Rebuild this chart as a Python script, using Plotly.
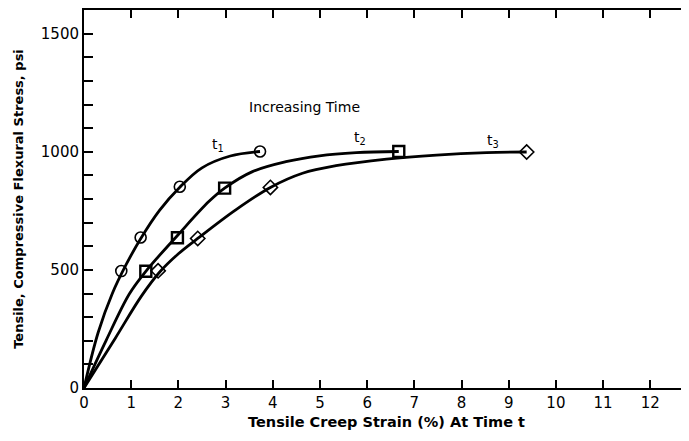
import plotly.graph_objects as go

# Marker points
t1_x = [0.79, 1.20, 2.03, 3.73]
t1_y = [495, 637, 852, 1001]
t2_x = [1.31, 1.98, 2.98, 6.67]
t2_y = [494, 636, 846, 1001]
t3_x = [1.57, 2.41, 3.95, 9.38]
t3_y = [496, 633, 849, 999]

# Points
c1_x = [0, 0.30, 0.60, 0.90, 1.20, 1.60, 2.03, 2.50, 3.10, 3.73]
c1_y = [0, 235, 400, 525, 632, 752, 850, 932, 982, 1001]
c2_x = [0, 0.47, 0.96, 1.31, 2.00, 2.65, 2.98, 3.57, 4.28, 4.99, 5.77, 6.67]
c2_y = [0, 202, 398, 494, 650, 790, 846, 916, 958, 983, 996, 1001]
c3_x = [0, 0.66, 1.22, 1.60, 2.00, 2.41, 3.20, 3.95, 4.63, 5.34, 6.41, 7.47, 8.53, 9.38]
c3_y = [0, 210, 390, 490, 568, 633, 752, 849, 909, 941, 969, 986, 996, 999]

x_ticks = list(range(0, 13))
y_ticks = [0, 500, 1000, 1500]

FONT = "DejaVu Sans"
fig = go.Figure()

for cx, cy in [(c1_x, c1_y), (c2_x, c2_y), (c3_x, c3_y)]:
    fig.add_trace(go.Scatter(
        x=cx, y=cy, mode="lines",
        line=dict(color="black", width=2.8, shape="spline", smoothing=1.0),
        hoverinfo="skip", showlegend=False))

for xs, ys, sym, lw in [(t1_x, t1_y, "circle-open", 1.6),
                        (t2_x, t2_y, "square-open", 2.4),
                        (t3_x, t3_y, "diamond-open", 1.6)]:
    fig.add_trace(go.Scatter(
        x=xs, y=ys, mode="markers",
        marker=dict(symbol=sym, size=11, color="black",
                    line=dict(color="black", width=lw)),
        showlegend=False))

annots = [
    dict(x=2.84, y=1030, text="t<sub>1</sub>"),
    dict(x=5.85, y=1060, text="t<sub>2</sub>"),
    dict(x=8.67, y=1045, text="t<sub>3</sub>"),
    dict(x=4.68, y=1189, text="Increasing Time"),
]
for a in annots:
    fig.add_annotation(x=a["x"], y=a["y"], text=a["text"], showarrow=False,
                       font=dict(family=FONT, size=14, color="black"))

fig.update_layout(
    width=681, height=433,
    margin=dict(l=76, r=0, t=0, b=53),
    plot_bgcolor="white", paper_bgcolor="white",
    font=dict(family=FONT, size=15, color="black"),
    xaxis=dict(range=[0, 12.82], tickvals=x_ticks, ticks="inside", ticklen=8,
               tickwidth=2, tickcolor="black", showline=True, linecolor="black",
               linewidth=2, mirror="ticks", showgrid=False, zeroline=False,
               tickfont=dict(size=15),
               title=dict(text="<b>Tensile Creep Strain (%) At Time t</b>",
                          font=dict(size=14.5), standoff=6)),
    yaxis=dict(range=[0, 1600], tickvals=y_ticks,
               ticks="inside", ticklen=9, tickwidth=2, tickcolor="black",
               minor=dict(dtick=100, tick0=0, ticks="inside", ticklen=9,
                          tickwidth=2, tickcolor="black", showgrid=False),
               showline=True, linecolor="black", linewidth=2, showgrid=False,
               zeroline=False, tickfont=dict(size=15),
               title=dict(text="<b>Tensile, Compressive Flexural Stress, psi</b>",
                          font=dict(size=13), standoff=14)),
)

fig.write_html("out.html")
